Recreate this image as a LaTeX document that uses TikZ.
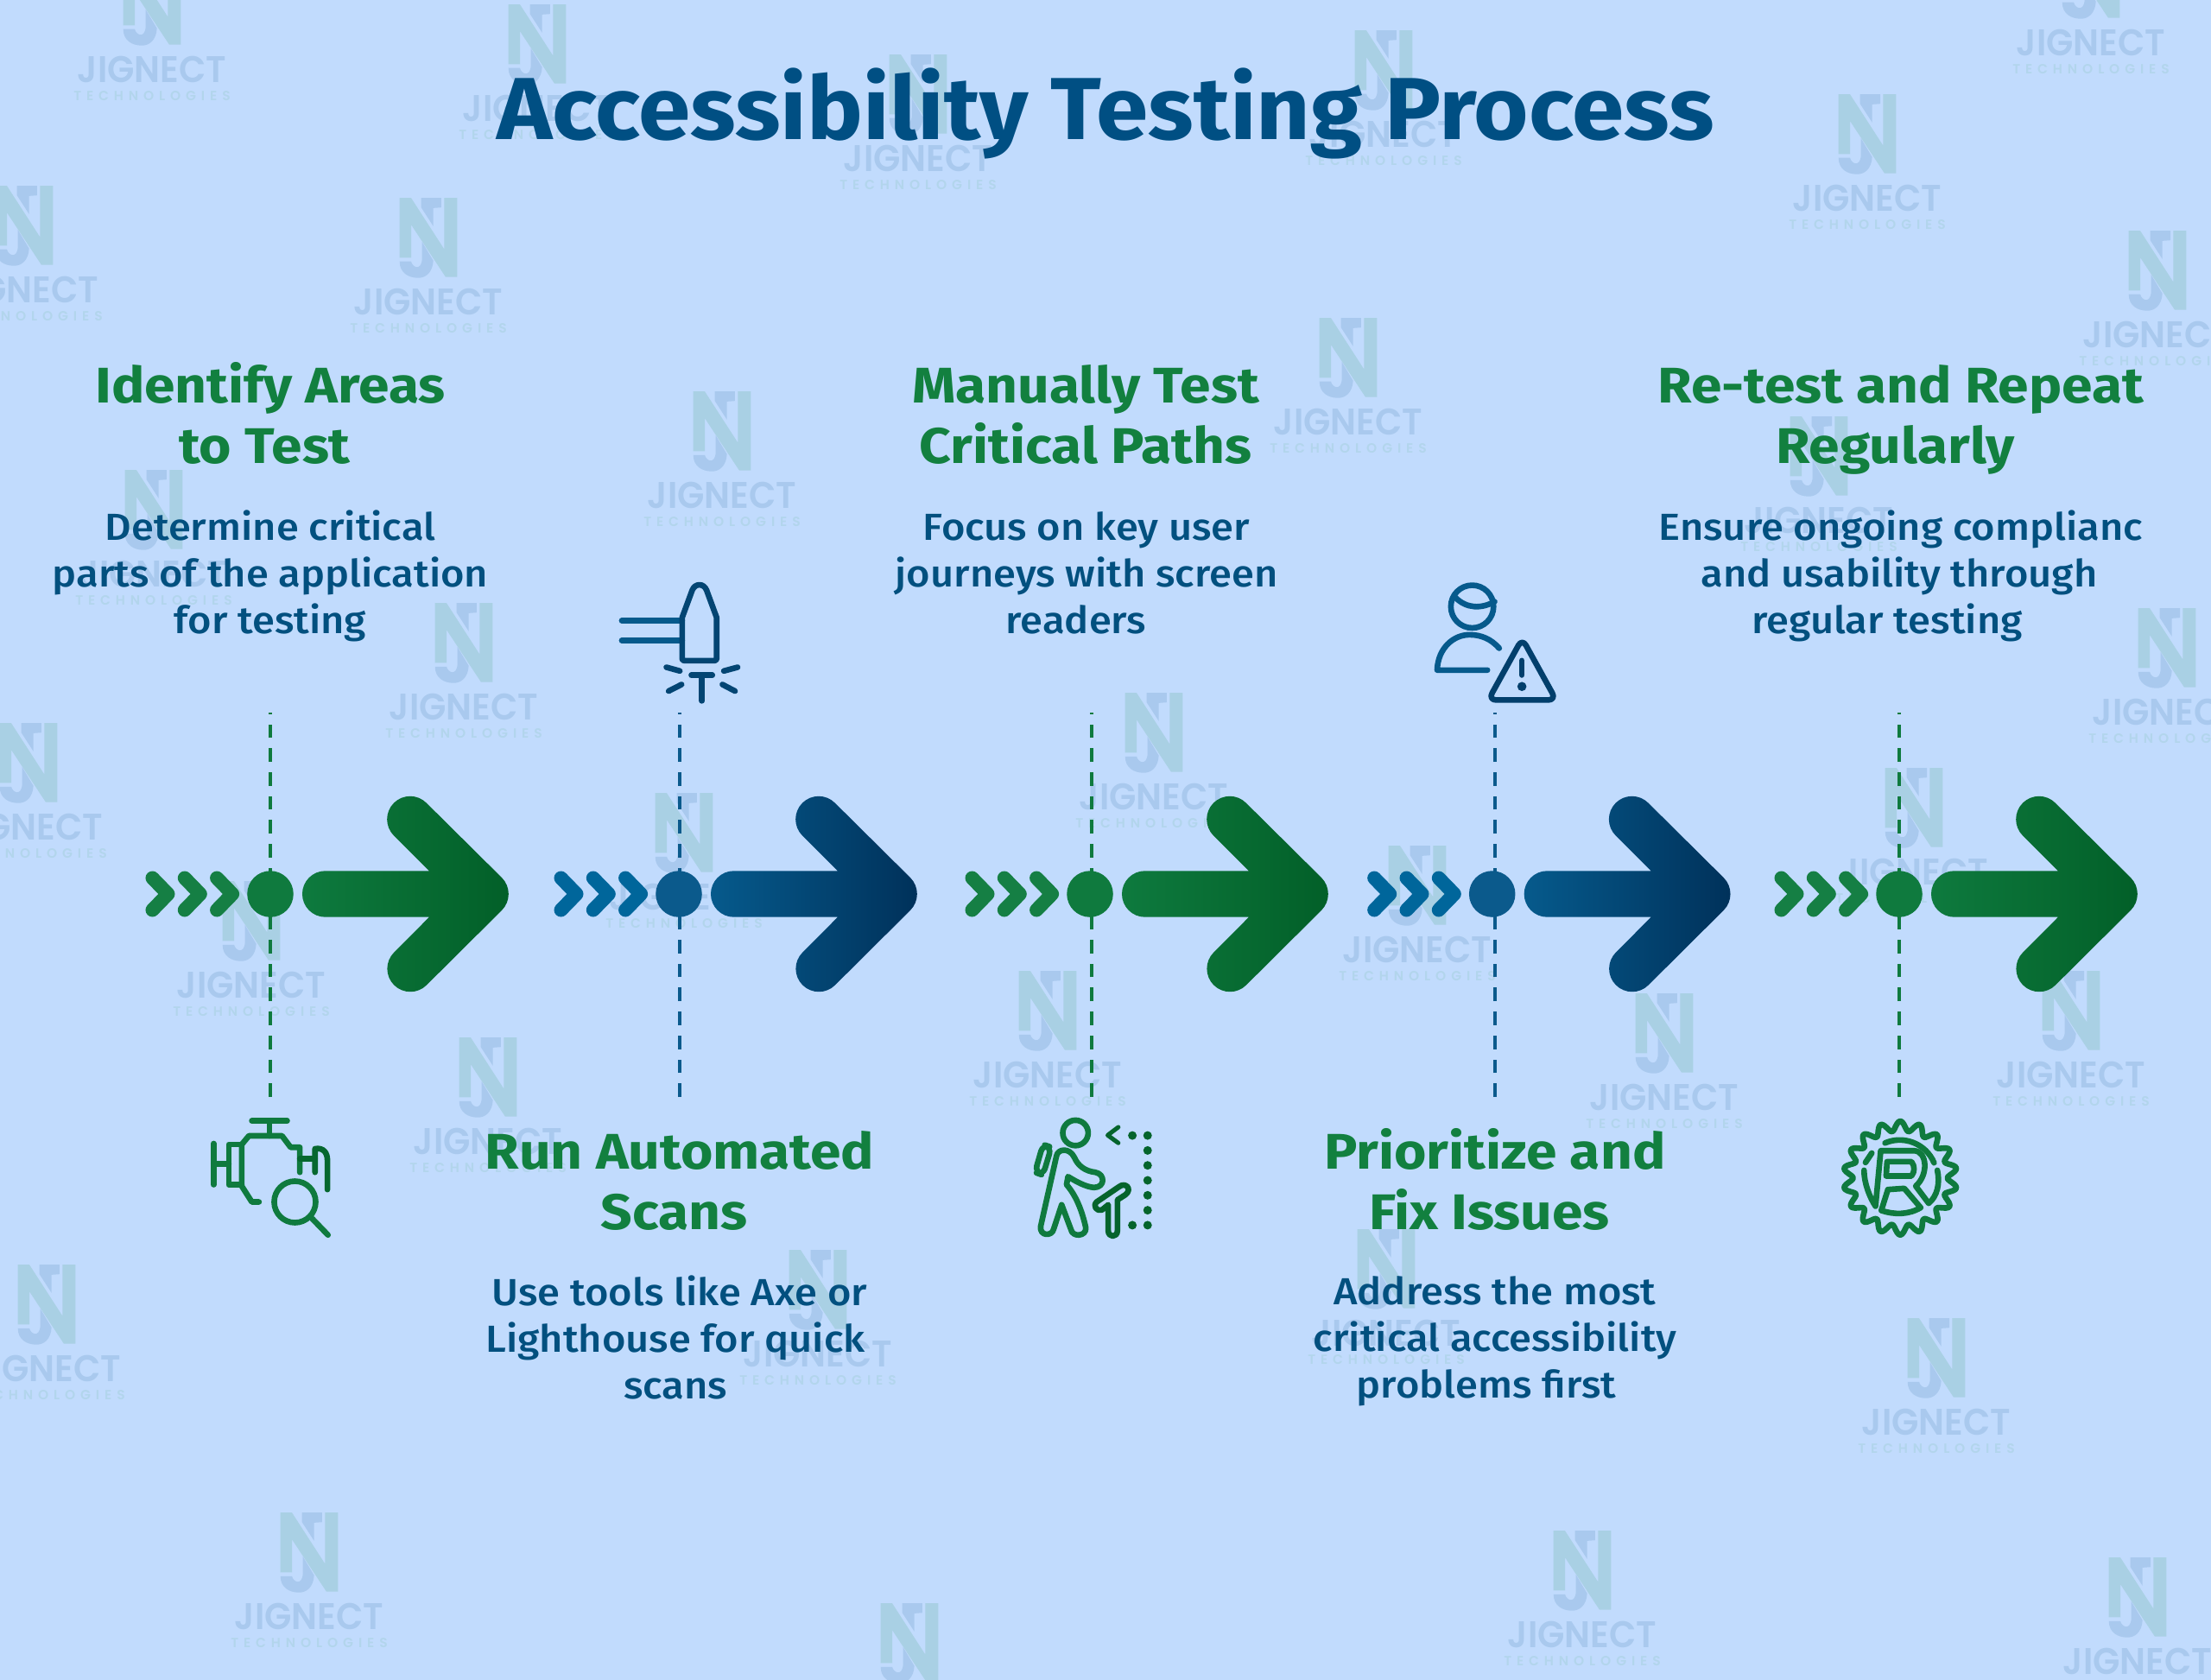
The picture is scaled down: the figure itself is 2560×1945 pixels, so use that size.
\documentclass[tikz,border=0pt]{standalone}
\usepackage{fontspec}
\usetikzlibrary{positioning}
\setmainfont{Fira Sans}
\newfontfamily\titlefont[FakeStretch=1.067]{Fira Sans Bold}
\newfontfamily\headfont[FakeStretch=1.105]{Fira Sans Bold}
\newfontfamily\copyfont[FakeStretch=1.08]{Fira Sans Medium}
\newfontfamily\wordfont[FakeStretch=0.95]{Poppins SemiBold}
\newfontfamily\subfont[LetterSpace=38]{Poppins SemiBold}

\definecolor{pagebg}{HTML}{C1DBFD}
\definecolor{markteal}{HTML}{A9D0E4}
\definecolor{markblue}{HTML}{A9C9EE}
\definecolor{marksub}{HTML}{B2D5EC}
\definecolor{titleblue}{HTML}{004F83}
\definecolor{headgreen}{HTML}{12803F}
\definecolor{copyblue}{HTML}{02507F}
\definecolor{grnchev}{HTML}{157F44}
\definecolor{grndot}{HTML}{0F7A3E}
\definecolor{grnstart}{HTML}{0E7A3E}
\definecolor{grnmid}{HTML}{066B33}
\definecolor{grnend}{HTML}{025F28}
\definecolor{bluchev}{HTML}{00669B}
\definecolor{bludot}{HTML}{0B5A8C}
\definecolor{blustart}{HTML}{065A8C}
\definecolor{blumid}{HTML}{004470}
\definecolor{bluend}{HTML}{00315A}

\tikzset{
titletext/.style={inner sep=0pt,text=titleblue,font=\titlefont\fontsize{29}{34}\selectfont},
headtext/.style={inner sep=0pt,anchor=north,align=center,text=headgreen,font=\headfont\fontsize{16.5}{19.9}\selectfont},
copytext/.style={inner sep=0pt,anchor=north,align=center,text=copyblue,font=\copyfont\fontsize{12.4}{15.35}\selectfont},
stepdot/.style={circle,inner sep=0pt,minimum size=.535cm},
guideline/.style={line width=.045cm,dash pattern=on .157cm off .12cm},
iconline/.style={line width=.066cm,line cap=round,line join=round},
zoomed/.style={x=.003333cm,y=-.003333cm},
jigmark/.pic={
\begin{scope}[zoomed]
\fill[markteal] (-100,-360) -- (-60,-360) -- (55,-182) -- (55,-360) -- (100,-360) -- (100,-85) -- (60,-85) -- (-60,-267) -- (-60,-152) -- (-100,-152) -- cycle;
\fill[markblue] (-25,-360) -- (45,-360) -- (45,-327) -- (17,-325) -- (17,-262) -- (-25,-327) -- cycle;
\fill[markblue] (-22,-207) -- (17,-142) .. controls (15,-100) and (-10,-82) .. (-35,-82) .. controls (-70,-82) and (-100,-100) .. (-100,-139) -- (-60,-139) .. controls (-55,-118) and (-25,-105) .. (-22,-147) -- cycle;
\end{scope}
\node[inner sep=0pt,text=markblue,font=\wordfont\fontsize{12.2}{14}\selectfont] (word) at (0,0) {JIGNECT};
\node[inner sep=0pt,text=marksub,font=\subfont\fontsize{4.4}{5}\selectfont] (sub) at (0,31) {TECHNOLOGIES};
}
}

\newcommand{\flowstep}[4]{
\coordinate (top#1) at (#3,825);
\coordinate (bot#1) at (#3,1270);
\draw[guideline,color=#4dot] (bot#1) -- (top#1);
\node[stepdot,fill=#4dot] (dot#1) at (#2,1035) {};
\begin{scope}[shift={(#2,1035)}]
\foreach \off in {0,37.3,74.6}
\draw[line width=.16cm,line cap=round,line join=round,color=#4chev] (-136.5+\off,-18.5) -- (-118.5+\off,0) -- (-136.5+\off,18.5);
\shade[left color=#4start,middle color=#4mid,right color=#4end] (63.7,-26.7) -- (184,-26.7) -- (143,-67.6)
arc[start angle=225,end angle=45,radius=.267cm] -- (268,-18.9)
arc[start angle=45,end angle=-45,radius=.267cm] -- (181,105.4)
arc[start angle=-45,end angle=-225,radius=.267cm] -- (184,26.7) -- (63.7,26.7)
arc[start angle=-90,end angle=-270,radius=.267cm] -- cycle;
\end{scope}
}

\begin{document}
\begin{tikzpicture}[x=.01cm,y=-.01cm]
\useasboundingbox (0,0) rectangle (2560,1945);
\clip (0,0) rectangle (2560,1945);
\fill[pagebg] (0,0) rectangle (2560,1945);

\foreach \mx/\my in {176/80,2421/49,622/125,1063/183,1602/155,2162/229,28/335,496/349,2498/387,1561/488,836/573,2106/602,178/664,537/818,2509/824,33/957,792/1038,1336/922,2216/1009,1641/1099,291/1140,1213/1244,1927/1270,2398/1244,565/1321,54/1584,947/1567,1605/1543,2242/1646,358/1871,1832/1892,2475/1923,1053/1976}
\pic at (\mx,\my) {jigmark};

\node[titletext] (title) at (1280,131) {Accessibility Testing Process};

\flowstep{A}{313}{313}{grn}
\flowstep{B}{786}{787}{blu}
\flowstep{C}{1262}{1264}{grn}
\flowstep{D}{1727.7}{1731}{blu}
\flowstep{E}{2199}{2199}{grn}

\node[headtext] (headA) at (313,419) {Identify Areas\\to Test\kern.13cm};
\node[copytext] (copyA) at (313,590) {Determine critical\\parts of the application\\for testing};

\node[headtext] (headB) at (787,1309) {Run Automated\\Scans\kern.13cm};
\node[copytext] (copyB) at (787,1476) {Use tools like Axe or\\Lighthouse for quick\kern.1cm\\scans\kern.1cm};

\node[headtext] (headC) at (1257,422) {Manually Test\\Critical Paths};
\node[copytext] (copyC) at (1258,592) {Focus on key user\\journeys with screen\\readers\kern.24cm};

\node[headtext] (headD) at (1731,1306) {Prioritize and\\Fix Issues\kern.13cm};
\node[copytext] (copyD) at (1731,1477) {Address the most\\critical accessibility\\problems first\kern.2cm};

\node[headtext] (headE) at (2201,422) {Re-test and Repeat\\Regularly\kern.13cm};
\node[copytext] (copyE) at (2201,590) {Ensure ongoing complianc\\and usability through\kern.04cm\\regular testing\kern.32cm};

% engine
\begin{scope}[shift={(225,1280)},zoomed,iconline,color=grndot]
\draw (200,53) -- (323,53);
\draw (262,53) -- (262,105);
\draw (225,335) -- (200,335) -- (165,280) -- (165,135) -- (190,105) -- (305,105) -- (335,145) -- (367,145) -- (367,232);
\draw (165,135) -- (120,135) -- (120,275) -- (165,275);
\draw (67,132) -- (67,275);
\draw (67,202) -- (120,202);
\draw[color=grnend!70!grndot] (367,185) -- (420,185);
\draw[color=grnend!70!grndot] (420,232) -- (420,150) .. controls (450,145) and (463,165) .. (463,190) -- (463,292);
\draw (350,335) circle[radius=.24cm];
\draw (410,393) -- (465,450);
\end{scope}

% rocket
\begin{scope}[shift={(680,650)},zoomed,iconline,color=blustart!50!bluend]
\draw[color=blustart] (120,206) -- (330,206);
\draw[color=blustart] (120,275) -- (330,275);
\draw (330,195) -- (365,100) .. controls (375,75) and (405,75) .. (415,100) -- (450,195) -- (450,338) .. controls (450,343) and (447,345) .. (442,345) -- (338,345) .. controls (333,345) and (330,343) .. (330,338) -- cycle;
\draw (362,396) -- (435,396);
\draw (399,396) -- (399,485);
\draw (275,368) -- (322,381);
\draw (475,381) -- (523,368);
\draw (283,451) -- (328,428);
\draw (470,428) -- (514,451);
\end{scope}

% walker
\begin{scope}[shift={(1170,1270)},zoomed,iconline,color=grndot]
\draw (226,125) circle[radius=.147cm];
\draw[rounded corners=.08cm] (113,165) -- (142,175) -- (113,272) -- (85,262) -- cycle;
\draw (178,375) -- (150,460) .. controls (145,485) and (100,485) .. (105,450) -- (160,205) .. controls (165,180) and (205,175) .. (222,210) .. controls (235,240) and (260,258) .. (295,262) .. controls (330,268) and (330,315) .. (290,315) .. controls (260,312) and (230,295) .. (200,277) -- (195,305) .. controls (230,345) and (250,400) .. (262,455) .. controls (265,485) and (215,490) .. (210,460) -- cycle;
\draw[color=grnend!80!grndot] (340,375) -- (340,465) .. controls (340,490) and (372,490) .. (372,465) -- (372,358) -- (400,340) .. controls (425,320) and (400,295) .. (378,312) -- (300,365) .. controls (285,378) and (300,400) .. (318,393) -- cycle;
\draw[line width=.05cm,color=grnend!80!grndot] (375,105) -- (338,133) -- (375,160);
\foreach \px/\py in {424/134,477/134,477/186,477/238,477/290,477/342,477/394,477/446,424/446}
\fill[color=grnend!80!grndot] (\px,\py) circle[radius=.05cm];
\end{scope}

% person with warning
\begin{scope}[shift={(1640,650)},zoomed,iconline,color=blustart]
\draw (194,157) circle[radius=.247cm];
\draw (135,125) .. controls (175,165) and (225,165) .. (272,140);
\draw (247,378) -- (72,378) .. controls (75,300) and (130,255) .. (185,255) .. controls (225,255) and (260,270) .. (288,302);
\begin{scope}[color=blustart!35!bluend]
\draw[rounded corners=.09cm] (368,268) -- (486,482) -- (250,482) -- cycle;
\draw (367,345) -- (367,395);
\fill (367,435) circle[radius=.053cm];
\end{scope}
\end{scope}

% gear
\begin{scope}[shift={(2110,1270)},zoomed,iconline,color=grndot]
\draw plot[domain=0:360,samples=217] ({271+(181+17*cos(18*\x))*sin(\x)},{282-(181+17*cos(18*\x))*cos(\x)}) -- cycle;
\draw (218,160) arc[start angle=113,end angle=23,radius=.433cm];
\draw (150,228) -- (172,195);
\draw (145,255) .. controls (145,300) and (165,350) .. (185,380) -- (203,187) -- (320,187) .. controls (365,190) and (370,270) .. (325,310) -- (370,370) .. controls (400,345) and (410,300) .. (400,255);
\draw (225,225) -- (310,225) .. controls (322,240) and (322,260) .. (310,275) -- (222,275) -- cycle;
\draw (342,385) .. controls (300,410) and (250,410) .. (205,395) -- (228,322) -- (285,318) -- (342,385);
\end{scope}
\end{tikzpicture}
\end{document}
